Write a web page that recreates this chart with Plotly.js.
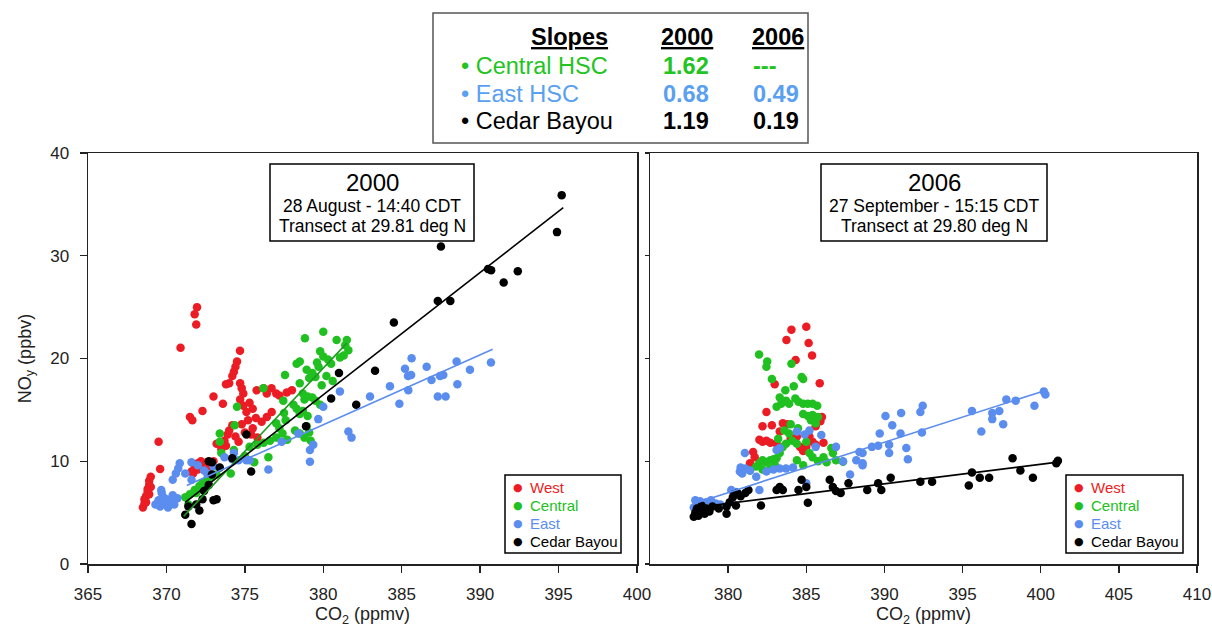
<!DOCTYPE html>
<html><head><meta charset="utf-8">
<script src="https://cdn.plot.ly/plotly-3.0.1.min.js"></script>
<style>html,body{margin:0;padding:0;background:#fff;} #chart{width:1212px;height:627px;}</style>
</head><body><div id="chart"></div>
<script>
// ---------------- DATA ----------------
const seriesNames = ['West', 'Central', 'East', 'Cedar Bayou'];

// 2000 panel (CO2 ppmv, NOy ppbv)
const west2000 = [[368.5,5.5],[368.6,5.9],[368.6,6.3],[368.7,6.6],[368.8,7.0],[368.8,7.3],[368.9,7.7],[368.9,8.1],[369.0,8.5],[368.7,6.0],[368.9,6.8],[369.0,7.5],[369.6,9.25],[369.5,11.9],[370.9,21.05],[371.95,25.0],[371.8,24.3],[371.9,23.3],[371.5,14.3],[371.65,14.0],[372.3,14.9],[373.0,16.3],[373.6,15.6],[373.2,11.7],[371.6,9.0],[371.8,9.5],[372.0,9.8],[372.2,10.0],[372.4,9.6],[372.6,9.9],[372.8,9.5],[371.7,8.8],[372.0,9.2],[372.5,9.3],[373.0,10.0],[373.5,11.2],[373.7,12.0],[373.9,12.6],[374.0,13.0],[373.8,11.5],[374.2,13.5],[374.4,12.4],[374.69,20.76],[374.5,19.7],[374.4,19.2],[374.3,18.7],[374.2,18.3],[374.0,17.6],[373.8,17.5],[374.7,17.6],[374.8,17.1],[374.9,16.6],[374.7,16.0],[374.9,15.4],[375.1,14.8],[375.3,15.7],[375.5,15.1],[375.7,14.2],[375.2,14.0],[374.8,13.6],[375.0,12.8],[375.4,12.6],[375.8,12.3],[375.75,16.9],[376.2,17.1],[376.7,17.1],[377.0,16.6],[377.2,16.4],[377.67,16.7],[378.0,16.9],[376.4,16.6],[376.71,14.8],[376.4,14.3],[376.07,13.85],[375.5,13.2],[374.6,11.9]];
const central2000 = [[371.2,6.5],[371.5,6.8],[371.8,7.2],[372.1,7.6],[372.3,7.9],[372.6,8.3],[372.9,8.5],[373.2,8.7],[371.4,5.8],[371.9,6.9],[372.4,7.4],[373.4,12.7],[373.4,11.9],[373.5,10.8],[374.1,8.8],[374.3,11.1],[374.5,15.3],[374.35,13.5],[375.0,10.5],[375.3,11.4],[375.6,9.9],[375.8,11.6],[376.2,11.8],[376.5,10.4],[376.6,12.0],[377.0,12.3],[377.0,13.7],[377.2,13.2],[377.4,12.7],[377.7,12.1],[377.5,14.7],[377.6,14.0],[377.45,15.9],[376.18,17.1],[377.56,18.4],[378.1,15.5],[378.3,15.1],[378.5,14.6],[378.7,14.9],[379.0,14.4],[378.2,13.0],[378.5,12.7],[378.8,12.3],[379.1,12.8],[379.2,12.0],[378.94,13.4],[378.5,17.6],[378.7,16.6],[379.0,16.3],[378.8,16.0],[379.3,16.2],[379.5,15.9],[379.8,15.5],[378.3,19.5],[378.5,19.7],[378.83,21.96],[378.94,18.9],[379.3,18.6],[379.1,18.1],[379.5,18.2],[379.6,19.6],[379.7,19.2],[380.0,22.6],[379.8,20.7],[380.0,20.2],[380.3,19.9],[380.5,19.5],[380.85,21.8],[381.06,20.1],[381.3,20.3],[381.5,21.8],[381.6,20.8],[381.4,21.3],[380.2,18.3],[380.6,17.8],[379.9,17.4]];
const east2000 = [[369.3,5.8],[369.5,6.2],[369.6,5.6],[369.8,6.5],[369.9,5.9],[370.0,6.3],[370.1,5.5],[370.3,6.1],[370.4,6.7],[370.5,5.8],[370.7,6.4],[369.7,6.9],[369.67,7.2],[370.4,8.2],[370.6,8.8],[370.75,9.3],[370.85,9.8],[371.2,8.8],[371.6,8.2],[371.6,9.9],[372.0,9.6],[372.4,9.1],[372.6,8.8],[373.0,9.5],[373.7,10.4],[374.2,10.2],[374.3,10.8],[374.6,10.1],[375.1,10.1],[375.3,10.1],[376.5,9.2],[377.35,11.9],[378.41,12.7],[379.15,9.96],[379.15,11.1],[379.36,11.6],[379.68,14.1],[380.0,15.3],[381.06,16.8],[381.6,12.9],[381.8,12.3],[382.98,16.3],[384.25,17.3],[384.85,15.6],[385.21,19.0],[385.4,18.3],[385.6,18.4],[385.63,20.02],[385.42,16.9],[386.59,19.2],[386.9,17.9],[387.3,16.3],[387.44,18.3],[387.65,18.4],[387.8,16.3],[388.5,19.7],[388.55,17.5],[389.35,18.9],[390.69,19.6]];
const cedar2000 = [[371.2,4.8],[371.4,5.6],[371.6,3.9],[371.9,5.8],[372.1,5.2],[372.3,6.3],[372.4,7.1],[372.7,7.7],[372.9,8.7],[373.0,6.2],[373.2,6.3],[372.7,10.0],[372.9,9.9],[373.4,9.4],[374.2,10.3],[375.4,9.0],[375.1,12.6],[378.9,13.4],[380.5,16.1],[381.0,18.6],[382.1,15.5],[383.3,18.8],[384.5,23.5],[387.3,25.6],[388.1,25.6],[387.5,30.9],[390.5,28.7],[390.7,28.6],[391.5,27.4],[392.4,28.5],[394.9,32.3],[395.2,35.9]];

// 2006 panel
const west2006 = [[385.0,23.1],[384.05,22.8],[383.73,21.8],[385.15,21.5],[385.37,20.3],[384.32,19.85],[385.86,17.6],[382.98,17.5],[382.45,14.8],[383.5,13.7],[383.8,13.6],[382.8,13.5],[382.2,13.4],[382.0,12.1],[382.2,11.9],[382.45,12.0],[382.7,11.8],[383.1,11.7],[384.4,12.4],[384.6,11.4],[384.8,11.0],[385.6,13.4],[385.9,13.9],[386.0,14.3],[385.4,11.9],[385.6,11.6],[386.1,11.8],[381.6,10.9],[381.7,10.4],[381.4,9.8],[385.0,11.4],[385.2,12.4],[383.3,12.9],[384.0,12.2]];
const central2006 = [[381.98,20.4],[382.5,19.7],[382.45,19.2],[382.8,18.0],[384.05,19.5],[384.7,18.2],[384.8,18.0],[384.2,17.3],[383.66,16.9],[383.3,16.2],[383.4,15.6],[383.1,15.3],[383.7,15.9],[383.9,15.6],[384.3,16.1],[384.5,15.8],[384.8,15.6],[385.1,15.6],[385.4,15.6],[385.7,15.4],[384.8,14.6],[385.1,14.4],[385.4,14.5],[385.75,14.3],[385.3,14.0],[385.6,13.7],[384.47,13.2],[383.9,12.7],[384.1,12.0],[384.4,11.7],[383.3,10.8],[383.5,11.4],[383.7,11.7],[385.0,11.9],[385.2,10.8],[385.4,10.4],[385.75,10.0],[386.1,10.4],[386.3,9.9],[386.6,11.3],[386.7,10.8],[386.9,10.1],[381.8,9.5],[382.0,9.8],[382.2,10.1],[382.45,9.9],[382.7,10.1],[382.9,10.2],[383.1,10.3],[382.2,9.2],[382.7,9.3],[383.0,9.6],[381.4,9.1],[384.8,9.6],[384.4,10.1],[387.35,9.96],[383.6,13.0],[384.0,13.6],[383.2,12.2]];
const east2006 = [[377.8,5.5],[378.0,5.9],[378.2,6.1],[378.4,5.7],[378.6,6.0],[378.9,6.2],[379.2,5.9],[379.5,5.8],[377.9,6.2],[380.2,7.2],[380.5,7.0],[382.0,7.2],[380.75,9.0],[380.9,8.8],[381.1,9.3],[381.4,9.1],[380.8,9.4],[381.07,10.8],[381.8,8.5],[382.45,9.0],[382.9,9.2],[383.3,9.3],[383.7,9.3],[384.15,9.4],[383.1,11.1],[383.3,11.3],[384.4,12.9],[384.9,12.6],[385.2,13.0],[385.96,12.55],[385.6,11.4],[385.0,7.85],[387.35,10.0],[387.8,8.7],[388.2,10.1],[388.6,9.8],[386.9,11.4],[388.4,10.9],[388.6,10.8],[388.6,9.6],[389.2,11.4],[389.6,11.5],[389.7,12.7],[390.07,14.4],[390.5,13.5],[390.3,11.6],[390.3,10.8],[391.07,14.7],[391.03,12.7],[391.4,11.3],[391.5,10.2],[392.3,14.8],[392.45,15.4],[392.4,12.8],[395.6,14.9],[396.2,12.9],[396.9,14.7],[397.35,14.9],[396.9,14.1],[397.6,13.6],[397.8,16.0],[398.4,15.9],[399.6,15.4],[400.2,16.8],[400.3,16.5]];
const cedar2006 = [[377.8,4.6],[377.9,5.0],[378.0,5.4],[378.1,4.7],[378.2,5.2],[378.3,5.7],[378.5,4.9],[378.6,5.4],[378.8,5.1],[379.0,5.6],[379.4,5.4],[379.9,5.6],[380.1,6.0],[380.3,6.5],[380.4,6.8],[380.6,6.9],[380.8,6.6],[381.1,6.9],[381.3,7.2],[379.9,4.9],[380.5,5.7],[382.1,5.7],[383.1,7.2],[383.3,7.5],[383.5,7.2],[384.5,7.2],[384.7,8.2],[385.0,7.5],[385.1,5.97],[386.5,8.2],[386.7,7.5],[386.9,7.1],[387.2,6.9],[387.7,7.85],[388.9,7.2],[389.6,7.85],[389.8,7.2],[390.4,8.4],[392.3,8.0],[393.05,8.0],[395.4,7.65],[395.6,8.9],[396.1,8.4],[396.7,8.4],[398.2,10.3],[398.7,9.1],[399.5,8.4],[401.0,9.8],[401.1,10.05]];

// Fit lines (slope, x extent, y at start)
const fitSeries2000 = ['Central', 'East', 'Cedar Bayou'];
const fitSlopes2000 = [1.62, 0.68, 1.19];
const fitXStart2000 = [371.1, 371.3, 371.2];
const fitXEnd2000 = [381.5, 390.8, 395.3];
const fitYStart2000 = [4.65, 7.64, 6.0];
const fitSeries2006 = ['East', 'Cedar Bayou'];
const fitSlopes2006 = [0.49, 0.19];
const fitXStart2006 = [377.9, 378.4];
const fitXEnd2006 = [400.3, 401.1];
const fitYStart2006 = [5.92, 5.6];

// Slopes table
const tableRows = ['Central HSC', 'East HSC', 'Cedar Bayou'];
const tableSlopes2000 = ['1.62', '0.68', '1.19'];
const tableSlopes2006 = ['---', '0.49', '0.19'];
const tableHeaders = ['Slopes', '2000', '2006'];

// Ticks
const xTicks2000 = [365, 370, 375, 380, 385, 390, 395, 400];
const xTicks2006 = [380, 385, 390, 395, 400, 405, 410];
const yTicks = [0, 10, 20, 30, 40];

// Panel labels
const panelYears = ['2000', '2006'];
const panelDates = ['28 August - 14:40 CDT', '27 September - 15:15 CDT'];
const panelTransects = ['Transect at 29.81 deg N', 'Transect at 29.80 deg N'];

// ---------------- STYLE ----------------
const colors = {'West': '#ec1c24', 'Central': '#20c020', 'East': '#5b8def', 'Cedar Bayou': '#000000'};
const fitColors = {'Central': '#1e9a1e', 'East': '#5b8def', 'Cedar Bayou': '#000000'};
const tableColors = ['#22c422', '#5aa0f0', '#000000'];
const FONT = 'Liberation Sans, Arial, Helvetica, sans-serif';
const W = 1212, H = 627;
const px = v => v / W;
const py = v => 1 - v / H;

const traces = [];
function addScatter(pairs, name, xa, ya) {
  traces.push({
    type: 'scatter', mode: 'markers', name: name, showlegend: false,
    x: pairs.map(p => p[0]), y: pairs.map(p => p[1]), xaxis: xa, yaxis: ya,
    marker: {color: colors[name], size: 8.5, line: {width: 0}}, hoverinfo: 'x+y'
  });
}
function addFits(series, slopes, xs, xe, ys, xa, ya) {
  series.forEach((s, i) => {
    traces.push({
      type: 'scatter', mode: 'lines', showlegend: false, name: s + ' fit',
      x: [xs[i], xe[i]], y: [ys[i], ys[i] + slopes[i] * (xe[i] - xs[i])],
      xaxis: xa, yaxis: ya, line: {color: fitColors[s], width: 1.6}
    });
  });
}
[west2000, central2000, east2000, cedar2000].forEach((d, i) => addScatter(d, seriesNames[i], 'x', 'y'));
[west2006, central2006, east2006, cedar2006].forEach((d, i) => addScatter(d, seriesNames[i], 'x2', 'y2'));
addFits(fitSeries2000, fitSlopes2000, fitXStart2000, fitXEnd2000, fitYStart2000, 'x', 'y');
addFits(fitSeries2006, fitSlopes2006, fitXStart2006, fitXEnd2006, fitYStart2006, 'x2', 'y2');

const shapes = [];
const annotations = [];
function box(x0, y0, x1, y1, color, w) {
  shapes.push({type: 'rect', xref: 'paper', yref: 'paper', x0: px(x0), x1: px(x1), y0: py(y1), y1: py(y0),
    line: {color: color, width: w}, fillcolor: 'rgba(255,255,255,1)', layer: 'above'});
}
function text(t, x, y, size, color, anchor, fam) {
  annotations.push({text: t, x: px(x), y: py(y), xref: 'paper', yref: 'paper', showarrow: false,
    xanchor: anchor || 'center', yanchor: 'middle', font: {size: size, color: color || '#000', family: fam || FONT}});
}

// Slopes table
box(433, 13, 808, 143, '#555', 1.5);
text('<b><u>' + tableHeaders[0] + '</u></b>', 610, 37, 23.5, '#000', 'right');
text('<b><u>' + tableHeaders[1] + '</u></b>', 659, 37, 23.5, '#000', 'left');
text('<b><u>' + tableHeaders[2] + '</u></b>', 750, 37, 23.5, '#000', 'left');
tableRows.forEach((r, i) => {
  const y = 66 + i * 27.5;
  text('\u2022 ' + r, 459, y, 23.5, tableColors[i], 'left');
  text('<b>' + tableSlopes2000[i] + '</b>', 661, y, 23.5, tableColors[i], 'left');
  text('<b>' + tableSlopes2006[i] + '</b>', 751, y, 23.5, tableColors[i], 'left');
});

// Panel label boxes
const panelBoxes = [[270, 474], [821, 1047]];
panelBoxes.forEach((b, i) => {
  box(b[0], 164, b[1], 241, '#000', 1.5);
  const cx = (b[0] + b[1]) / 2;
  text(panelYears[i], cx, 182, 24, '#000');
  text(panelDates[i], cx, 206, 17.5, '#000');
  text(panelTransects[i], cx, 226, 17.5, '#000');
});

// In-plot legends
const legendBoxes = [[505, 621], [1066, 1183]];
legendBoxes.forEach(b => {
  box(b[0], 475, b[1], 553, '#000', 1.5);
  seriesNames.forEach((n, j) => {
    const y = 487 + j * 18;
    text('\u25CF', b[0] + 12.5, y, 11, colors[n], 'center', 'DejaVu Sans, sans-serif');
    text(n, b[0] + 23, y, 15, colors[n], 'left');
  });
});

const axisCommon = {
  showline: true, mirror: true, linecolor: '#222', linewidth: 1.5,
  ticks: 'outside', ticklen: 7, tickwidth: 1.3, tickcolor: '#222',
  showgrid: false, zeroline: false, tickfont: {size: 17, color: '#222', family: FONT},
  ticklabelstandoff: 7
};

const layout = {
  width: W, height: H, margin: {l: 0, r: 0, t: 0, b: 0},
  paper_bgcolor: '#fff', plot_bgcolor: '#fff', showlegend: false,
  font: {family: FONT, color: '#222'},
  xaxis: Object.assign({}, axisCommon, {domain: [px(88), px(637)], range: [365, 400], tickvals: xTicks2000,
    title: {text: 'CO<sub>2</sub> (ppmv)', font: {size: 18, color: '#222'}, standoff: 4}, anchor: 'y'}),
  yaxis: Object.assign({}, axisCommon, {domain: [py(564), py(153)], range: [0, 40], tickvals: yTicks,
    title: {text: 'NO<sub>y</sub> (ppbv)', font: {size: 18, color: '#222'}, standoff: 14}, anchor: 'x'}),
  xaxis2: Object.assign({}, axisCommon, {domain: [px(650), px(1197)], range: [375, 410], tickvals: xTicks2006,
    title: {text: 'CO<sub>2</sub> (ppmv)', font: {size: 18, color: '#222'}, standoff: 4}, anchor: 'y2'}),
  yaxis2: Object.assign({}, axisCommon, {domain: [py(564), py(153)], range: [0, 40], tickvals: yTicks,
    showticklabels: false, ticklen: 4, anchor: 'x2'}),
  shapes: shapes, annotations: annotations
};

Plotly.newPlot('chart', traces, layout, {displayModeBar: false, staticPlot: true});
</script></body></html>
